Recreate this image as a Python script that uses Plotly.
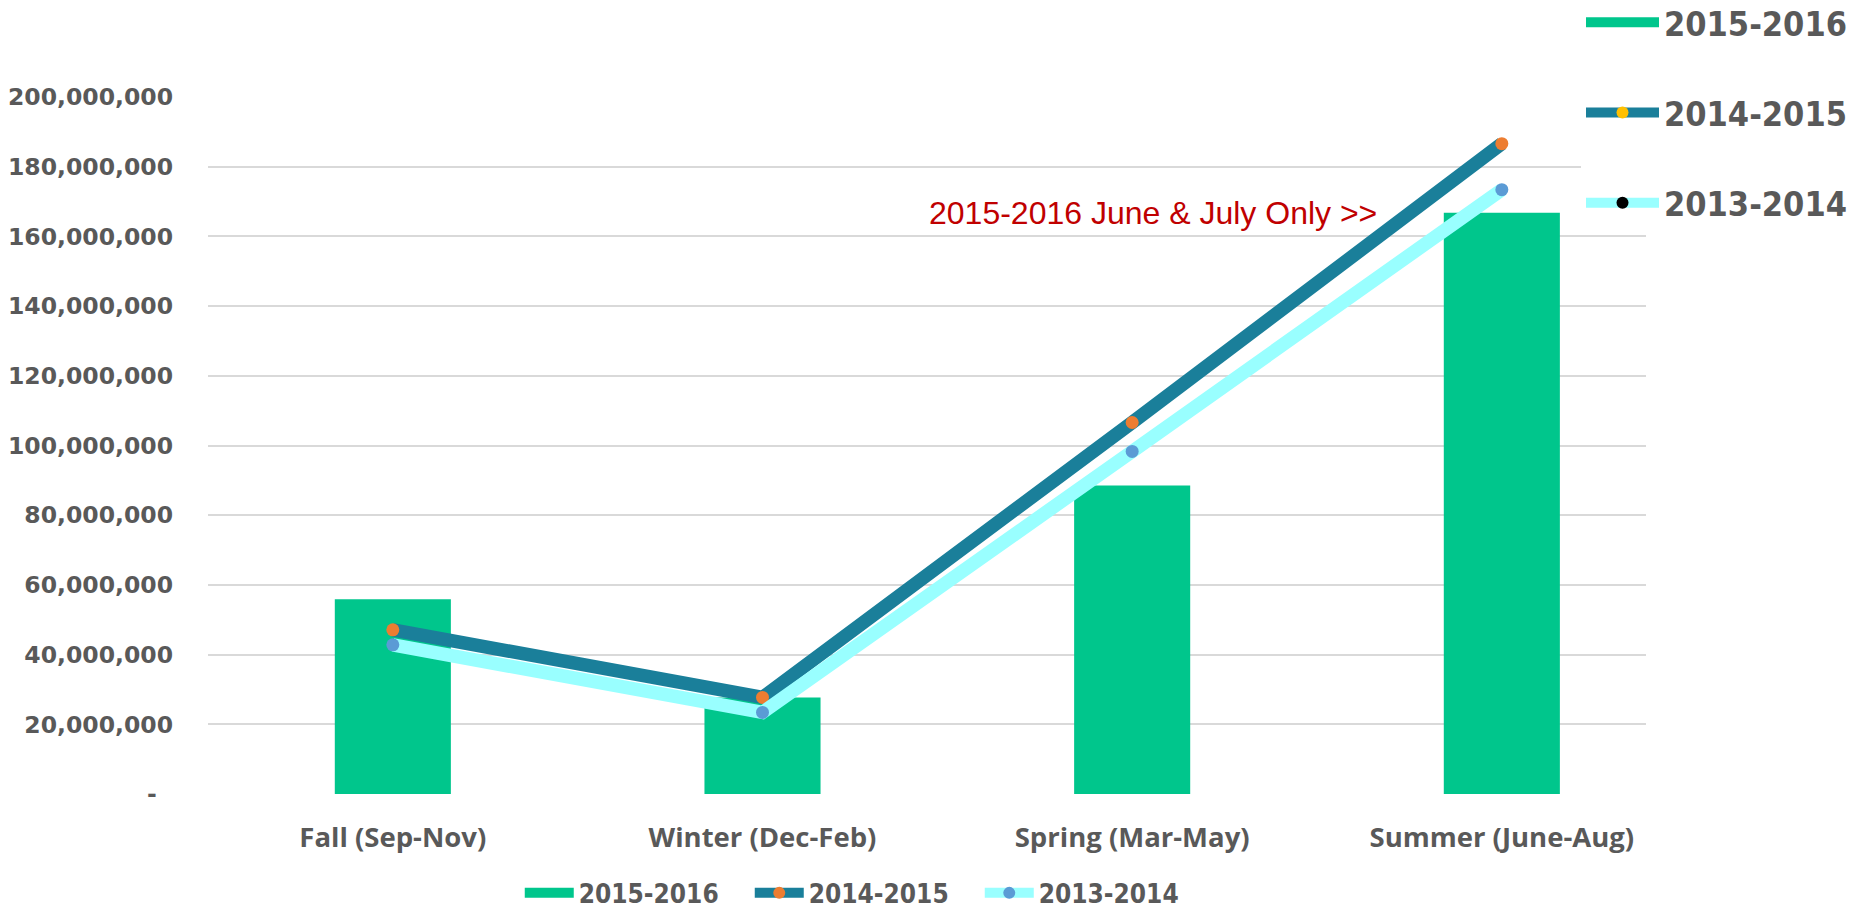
import plotly.graph_objects as go

seasons = ["Fall (Sep-Nov)", "Winter (Dec-Feb)", "Spring (Mar-May)", "Summer (June-Aug)"]
y_2015_2016 = [55_900_000, 27_700_000, 88_500_000, 166_800_000]
y_2014_2015 = [47_100_000, 27_700_000, 106_600_000, 186_600_000]
y_2013_2014 = [42_800_000, 23_400_000, 98_300_000, 173_400_000]
series_names = ["2015-2016", "2014-2015", "2013-2014"]

y_ticks = list(range(0, 200_000_001, 20_000_000))
y_tick_text = ["-\u00a0\u00a0"] + [f"{v:,}" for v in y_ticks[1:]]

GREEN = "#00C68C"
TEAL = "#1A7F9A"
CYAN = "#99FFFF"
ORANGE = "#ED7D31"
BLUE = "#5B9BD5"
YELLOW = "#FFC000"
GRAY = "#595959"

fig = go.Figure()

fig.add_trace(go.Bar(x=seasons, y=y_2015_2016, name=series_names[0],
                     marker=dict(color=GREEN, line=dict(width=0)),
                     width=0.314, showlegend=False))
fig.add_trace(go.Scatter(x=seasons, y=y_2014_2015, name=series_names[1],
                         mode="lines+markers",
                         line=dict(color=TEAL, width=13.5),
                         marker=dict(color=ORANGE, size=13),
                         showlegend=False))
fig.add_trace(go.Scatter(x=seasons, y=y_2013_2014, name=series_names[2],
                         mode="lines+markers",
                         line=dict(color=CYAN, width=13.5),
                         marker=dict(color=BLUE, size=13),
                         showlegend=False))

# legend entries: bottom legend + the pasted-looking one top right
bottom_markers = [None, ORANGE, BLUE]
top_markers = [None, YELLOW, "black"]
line_colors = [GREEN, TEAL, CYAN]
for i, nm in enumerate(series_names):
    for lg, mk in (("legend", bottom_markers[i]), ("legend2", top_markers[i])):
        fig.add_trace(go.Scatter(
            x=[None], y=[None], name=nm, legend=lg, legendgroup=lg + nm,
            mode="lines" if mk is None else "lines+markers",
            line=dict(color=line_colors[i], width=20 if mk is None else 16),
            marker=dict(color=mk or line_colors[i], size=12),
        ))

fig.add_annotation(text="2015-2016 June &amp; July Only &gt;&gt;",
                   xref="paper", yref="paper", x=0.814, y=0.833,
                   xanchor="right", yanchor="middle", showarrow=False,
                   font=dict(family="Liberation Sans, Arial", size=32, color="#C00000"))

fig.update_layout(
    width=1850,
    height=911,
    autosize=False,
    template="none",
    margin=dict(t=97, b=117, l=208, r=204, autoexpand=False),
    plot_bgcolor="white",
    paper_bgcolor="white",
    showlegend=True,
    legend=dict(orientation="h",
                x=0.2168, xanchor="left", y=-0.142, yanchor="middle",
                font=dict(family="DejaVu Sans Condensed, DejaVu Sans", size=26, color=GRAY, weight="bold"),
                itemwidth=49, entrywidth=166, traceorder="normal", bgcolor="rgba(0,0,0,0)"),
    legend2=dict(orientation="v",
                 x=0.9548, xanchor="left", y=1.1482, yanchor="top",
                 font=dict(family="DejaVu Sans Condensed, DejaVu Sans", size=34, color=GRAY, weight="bold"),
                 itemwidth=73, traceorder="grouped", tracegroupgap=43, bgcolor="white"),
    xaxis=dict(range=[-0.5, 3.39], showgrid=False, showline=False, ticks="", automargin=False,
               zeroline=False,
               tickfont=dict(family="Open Sans", size=27.5, color=GRAY, weight="bold"),
               ticklabelstandoff=24),
    yaxis=dict(range=[0, 200_000_000], tickvals=y_ticks, ticktext=y_tick_text,
               showgrid=True, gridcolor="#D9D9D9", gridwidth=2, automargin=False,
               zeroline=False, showline=False, ticks="",
               tickfont=dict(family="DejaVu Sans", size=23.5, color=GRAY, weight="bold"),
               ticklabelstandoff=34),
)

fig.write_html("out.html", config={"displayModeBar": False},
               post_script="document.body.style.margin='0';")
